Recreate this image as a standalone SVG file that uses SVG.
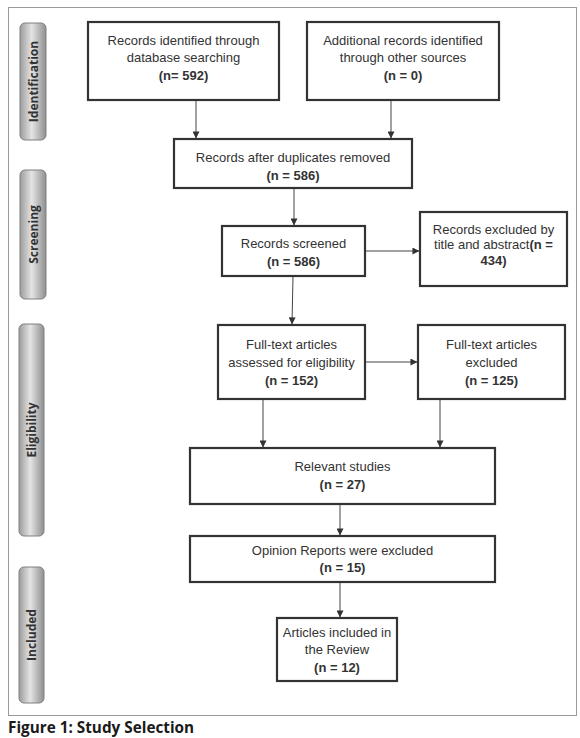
<svg xmlns="http://www.w3.org/2000/svg" width="580" height="738" viewBox="0 0 580 738">
<defs>
<linearGradient id="tab" x1="0" y1="0" x2="1" y2="0">
<stop offset="0" stop-color="#9c9c9c"/>
<stop offset="0.45" stop-color="#e4e4e4"/>
<stop offset="1" stop-color="#8f8f8f"/>
</linearGradient>
<marker id="ah" viewBox="0 0 8 8" refX="7.5" refY="4" markerWidth="7" markerHeight="7" markerUnits="userSpaceOnUse" orient="auto">
<path d="M0,0 L8,4 L0,8 z" fill="#333"/>
</marker>
</defs>
<style>
.box{fill:#fff;stroke:#333;stroke-width:2.2}
.t{font-family:"Liberation Sans",Arial,sans-serif;font-size:13px;fill:#333;text-anchor:middle}
.b{font-weight:bold}
.tab{fill:url(#tab);stroke:#808080;stroke-width:1}
.tl{font-family:"Open Sans","Liberation Sans",sans-serif;font-size:12px;font-weight:bold;fill:#333;text-anchor:middle}
.c{stroke:#444;stroke-width:1;fill:none;marker-end:url(#ah)}
</style>
<rect width="580" height="738" fill="#fff"/>
<rect x="8.5" y="7.5" width="568" height="708" fill="#fff" stroke="#9a9a9a" stroke-width="1"/>

<g id="stage-identification">
<rect class="tab" x="20" y="23" width="26" height="117" rx="5"/>
<text class="tl" transform="translate(37.5,81.5) rotate(-90)">Identification</text>
</g>
<g id="stage-screening">
<rect class="tab" x="20" y="170" width="26" height="129" rx="5"/>
<text class="tl" transform="translate(37.5,234.5) rotate(-90)">Screening</text>
</g>
<g id="stage-eligibility">
<rect class="tab" x="19" y="324" width="25" height="212" rx="5"/>
<text class="tl" transform="translate(35.5,430) rotate(-90)">Eligibility</text>
</g>
<g id="stage-included">
<rect class="tab" x="19" y="567" width="25" height="136" rx="5"/>
<text class="tl" transform="translate(35.5,635) rotate(-90)">Included</text>
</g>

<g id="connectors">
<line class="c" x1="196" y1="100" x2="196" y2="138"/>
<line class="c" x1="391" y1="100" x2="391" y2="138"/>
<line class="c" x1="294" y1="188" x2="294" y2="225"/>
<line class="c" x1="365" y1="251" x2="419" y2="251"/>
<line class="c" x1="293" y1="276" x2="292" y2="324"/>
<line class="c" x1="365" y1="362" x2="417" y2="362"/>
<line class="c" x1="263" y1="399" x2="263" y2="447"/>
<line class="c" x1="440" y1="399" x2="440" y2="447"/>
<line class="c" x1="340" y1="504" x2="340" y2="535"/>
<line class="c" x1="340" y1="582" x2="340" y2="617"/>
</g>

<g id="n1">
<rect class="box" x="88" y="22" width="191" height="78"/>
<text class="t" x="183.5" y="44.5">Records identified through</text>
<text class="t" x="183.5" y="61.5">database searching</text>
<text class="t b" x="183.5" y="79.5">(n= 592)</text>
</g>
<g id="n2">
<rect class="box" x="307" y="22" width="192" height="78"/>
<text class="t" x="403" y="44.5">Additional records identified</text>
<text class="t" x="403" y="61.5">through other sources</text>
<text class="t" x="403" y="79.5" style="font-weight:600">(n = 0)</text>
</g>
<g id="n3">
<rect class="box" x="174" y="139" width="238" height="49"/>
<text class="t" x="293" y="161.5">Records after duplicates removed</text>
<text class="t b" x="293" y="179.5">(n = 586)</text>
</g>
<g id="n4">
<rect class="box" x="222" y="226" width="143" height="50"/>
<text class="t" x="293.5" y="247.5">Records screened</text>
<text class="t b" x="293.5" y="265.5">(n = 586)</text>
</g>
<g id="n5">
<rect class="box" x="420" y="212" width="147" height="74"/>
<text class="t" x="493.5" y="233.5">Records excluded by</text>
<text class="t" x="493.5" y="248.5">title and abstract<tspan class="b">(n =</tspan></text>
<text class="t b" x="493.5" y="264.5">434)</text>
</g>
<g id="n6">
<rect class="box" x="218" y="325" width="147" height="74"/>
<text class="t" x="291.5" y="348.5">Full-text articles</text>
<text class="t" x="291.5" y="366.5">assessed for eligibility</text>
<text class="t b" x="291.5" y="384.5">(n = 152)</text>
</g>
<g id="n7">
<rect class="box" x="418" y="325" width="147" height="74"/>
<text class="t" x="491.5" y="348.5">Full-text articles</text>
<text class="t" x="491.5" y="366.5">excluded</text>
<text class="t b" x="491.5" y="384.5">(n = 125)</text>
</g>
<g id="n8">
<rect class="box" x="190" y="448" width="305" height="56"/>
<text class="t" x="342.5" y="470.5">Relevant studies</text>
<text class="t b" x="342.5" y="488.5">(n = 27)</text>
</g>
<g id="n9">
<rect class="box" x="190" y="536" width="305" height="46"/>
<text class="t" x="342.5" y="554.5">Opinion Reports were excluded</text>
<text class="t b" x="342.5" y="571.5">(n = 15)</text>
</g>
<g id="n10">
<rect class="box" x="277" y="618" width="120" height="63"/>
<text class="t" x="337" y="636.5">Articles included in</text>
<text class="t" x="337" y="653.5">the Review</text>
<text class="t b" x="337" y="671.5">(n = 12)</text>
</g>

<text x="8" y="733" style="font-family:'Open Sans','Liberation Sans',sans-serif;font-size:15.3px;font-weight:bold;fill:#1a1a1a">Figure 1: Study Selection</text>
</svg>
